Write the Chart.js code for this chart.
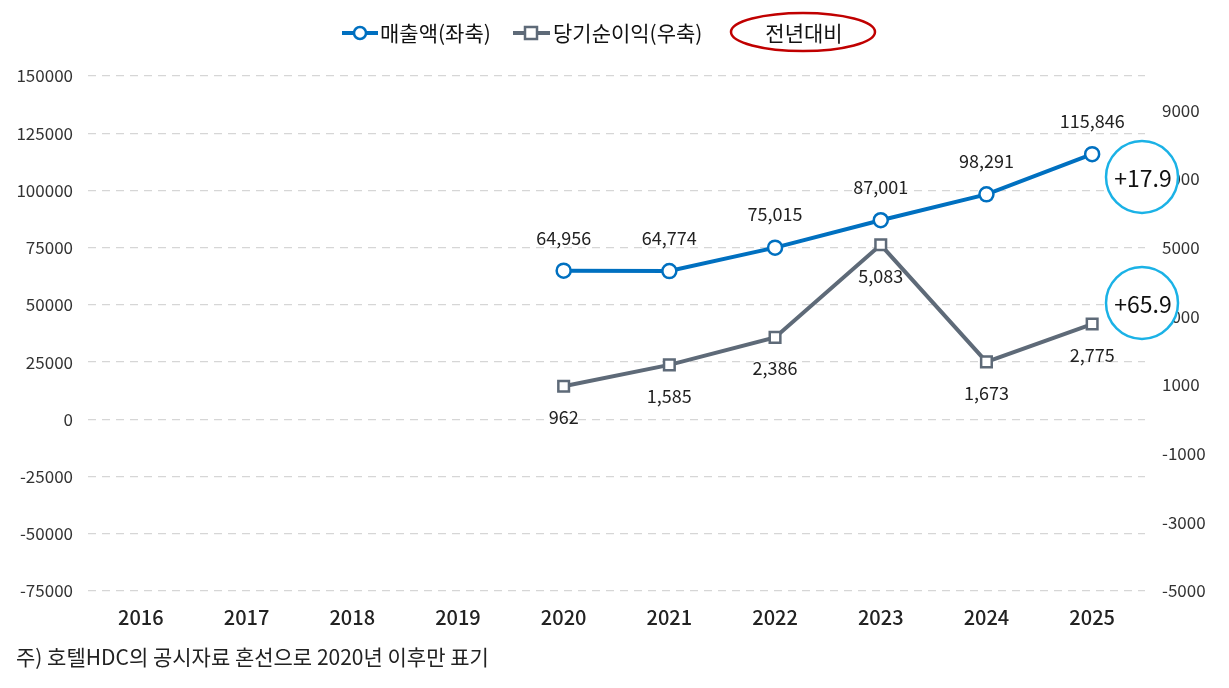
<!DOCTYPE html>
<html>
<head>
<meta charset="utf-8">
<script src="https://cdn.jsdelivr.net/npm/chart.js@4/dist/chart.umd.min.js"></script>
<style>
  html, body { margin: 0; padding: 0; background: #fff; }
  #wrap { width: 1229px; height: 688px; }
</style>
</head>
<body>
<div id="wrap"><canvas id="myChart" width="1229" height="688"></canvas></div>
<script>
const years = ['2016', '2017', '2018', '2019', '2020', '2021', '2022', '2023', '2024', '2025'];
const revenue = [null, null, null, null, 64956, 64774, 75015, 87001, 98291, 115846];
const netIncome = [null, null, null, null, 962, 1585, 2386, 5083, 1673, 2775];
const leftTicks = [-75000, -50000, -25000, 0, 25000, 50000, 75000, 100000, 125000, 150000];
const rightTicks = [-5000, -3000, -1000, 1000, 3000, 5000, 7000, 9000];
const yoyLabels = ['+17.9', '+65.9'];
const legendNames = ['매출액(좌축)', '당기순이익(우축)', '전년대비'];
const footnote = '주) 호텔HDC의 공시자료 혼선으로 2020년 이후만 표기';

const blue = '#0070C0';
const gray = '#5E6A78';
const cyan = '#1BB2E6';
const kfont = '"Noto Sans CJK KR", "Noto Sans", sans-serif';

function fmt(v) {
    return v.toLocaleString('en-US');
}

// value labels: revenue above, net income below
const valueLabels = {
    id: 'valueLabels',
    afterDatasetsDraw(chart) {
        const ctx = chart.ctx;
        ctx.save();
        ctx.font = '18px ' + kfont;
        ctx.fillStyle = '#222';
        ctx.textAlign = 'center';
        ctx.textBaseline = 'middle';
        chart.data.datasets.forEach((ds, i) => {
            const meta = chart.getDatasetMeta(i);
            meta.data.forEach((pt, j) => {
                if (ds.data[j] == null) return;
                const dy = i === 0 ? -33 : 31;
                ctx.fillText(fmt(ds.data[j]), pt.x, pt.y + dy);
            });
        });
        ctx.restore();
    }
};

// legend, yoy circles, footnote
const extras = {
    id: 'extras',
    afterDraw(chart) {
        const ctx = chart.ctx;
        ctx.save();
        const ly = 33;
        ctx.lineWidth = 4;
        // revenue legend
        ctx.strokeStyle = blue;
        ctx.beginPath(); ctx.moveTo(342, ly); ctx.lineTo(378, ly); ctx.stroke();
        ctx.lineWidth = 2.5;
        ctx.fillStyle = '#fff';
        ctx.beginPath(); ctx.arc(360, ly, 6, 0, Math.PI * 2); ctx.fill(); ctx.stroke();
        // net income legend
        ctx.lineWidth = 4;
        ctx.strokeStyle = gray;
        ctx.beginPath(); ctx.moveTo(513, ly); ctx.lineTo(550, ly); ctx.stroke();
        ctx.lineWidth = 2.5;
        ctx.fillRect(525, ly - 6, 12, 12);
        ctx.strokeRect(525, ly - 6, 12, 12);

        ctx.font = '21px ' + kfont;
        ctx.fillStyle = '#111';
        ctx.textBaseline = 'middle';
        ctx.textAlign = 'left';
        ctx.fillText(legendNames[0], 380, ly);
        ctx.fillText(legendNames[1], 553, ly);
        ctx.textAlign = 'center';
        ctx.fillText(legendNames[2], 804, ly);
        ctx.strokeStyle = '#C00000';
        ctx.lineWidth = 2.5;
        ctx.beginPath(); ctx.ellipse(803, 32, 72, 19, 0, 0, Math.PI * 2); ctx.stroke();

        // yoy circles
        const circY = [177, 303];
        ctx.font = '23px ' + kfont;
        yoyLabels.forEach((t, i) => {
            ctx.fillStyle = '#fff';
            ctx.strokeStyle = cyan;
            ctx.lineWidth = 2.5;
            ctx.beginPath(); ctx.arc(1142, circY[i], 36, 0, Math.PI * 2); ctx.fill(); ctx.stroke();
            ctx.fillStyle = '#111';
            ctx.fillText(t, 1143, circY[i] + 1);
        });

        // footnote
        ctx.font = '21px ' + kfont;
        ctx.fillStyle = '#222';
        ctx.textAlign = 'left';
        ctx.fillText(footnote, 16, 657);
        ctx.restore();
    }
};

const ctx = document.getElementById('myChart').getContext('2d');
const chart = new Chart(ctx, {
    type: 'line',
    data: {
        labels: years,
        datasets: [{
            label: legendNames[0],
            data: revenue,
            yAxisID: 'y',
            borderColor: blue,
            borderWidth: 4,
            pointStyle: 'circle',
            pointRadius: 7,
            pointBorderWidth: 2.5,
            pointBackgroundColor: '#fff',
            pointBorderColor: blue,
            tension: 0
        }, {
            label: legendNames[1],
            data: netIncome,
            yAxisID: 'y2',
            borderColor: gray,
            borderWidth: 4,
            pointStyle: 'rect',
            pointRadius: 7.5,
            pointBorderWidth: 2.5,
            pointBackgroundColor: '#fff',
            pointBorderColor: gray,
            tension: 0
        }]
    },
    options: {
        responsive: false,
        animation: false,
        layout: { padding: { left: 0, right: 0, top: 76, bottom: 57 } },
        plugins: {
            legend: { display: false },
            tooltip: { enabled: false }
        },
        scales: {
            x: {
                offset: true,
                grid: { display: false },
                border: { display: false },
                ticks: {
                    padding: 6,
                    color: '#222',
                    font: { family: kfont, size: 20, weight: '500' }
                },
                afterFit(scale) { scale.height = 40; }
            },
            y: {
                position: 'left',
                min: -75000,
                max: 150000,
                afterBuildTicks(scale) { scale.ticks = leftTicks.map(v => ({ value: v })); },
                grid: { color: '#D6D6D6', lineWidth: 1.3, drawTicks: false },
                border: { display: false, dash: [8, 6] },
                ticks: {
                    padding: 15,
                    color: '#333',
                    font: { family: kfont, size: 17 },
                    callback: v => String(v)
                },
                afterFit(scale) { scale.width = 88; }
            },
            y2: {
                position: 'right',
                min: -5000,
                max: 10000,
                afterBuildTicks(scale) { scale.ticks = rightTicks.map(v => ({ value: v })); },
                grid: { display: false },
                border: { display: false },
                ticks: {
                    padding: 9,
                    color: '#333',
                    font: { family: kfont, size: 17 },
                    callback: v => String(v)
                },
                afterFit(scale) { scale.width = 84; }
            }
        }
    },
    plugins: [valueLabels, extras]
});
</script>
</body>
</html>
